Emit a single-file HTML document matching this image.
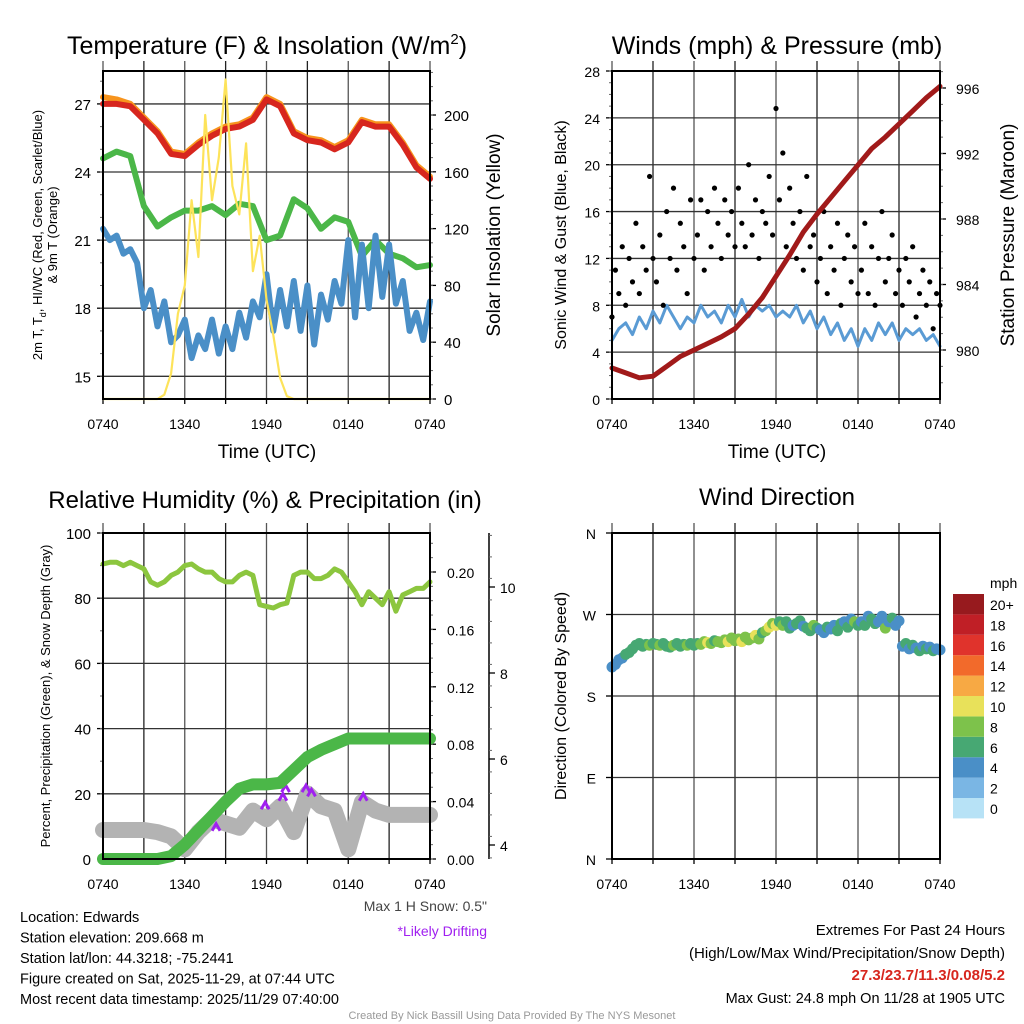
<!DOCTYPE html>
<html><head><meta charset="utf-8"><style>
body{margin:0;background:#fff;}
svg{display:block;font-family:"Liberation Sans",sans-serif;}
</style></head><body>
<svg id="s" width="1024" height="1024" viewBox="0 0 1024 1024">
<rect width="1024" height="1024" fill="#fff"/>
<g id="g"></g>
</svg>
<script>
// ---------- DATA ----------
const timeLabels = ["0740","1340","1940","0140","0740"];
// hourly (25 values, t=0..24h)
const tempRed = [27.0,27.0,26.9,26.3,25.7,24.8,24.7,25.2,25.6,25.9,26.0,26.3,27.2,26.9,25.7,25.4,25.3,25.0,25.3,26.2,26.0,26.0,25.2,24.2,23.7];
const temp9mOrange = [27.3,27.2,27.0,26.4,25.8,24.9,24.8,25.3,25.7,26.0,26.1,26.4,27.3,27.0,25.8,25.5,25.4,25.1,25.4,26.3,26.1,26.1,25.3,24.3,23.8];
const dewGreen = [24.6,24.9,24.7,22.5,21.6,22.0,22.3,22.3,22.5,22.1,22.6,22.5,21.0,21.2,22.8,22.4,21.5,22.0,21.8,20.3,21.0,20.4,20.2,19.8,19.9];
// half-hourly (49 values)
const windChillBlue = [21.5,21.0,21.2,20.4,20.6,20.0,18.0,18.8,17.2,18.3,16.5,16.8,17.5,15.8,16.8,16.2,17.5,16.0,17.2,16.2,17.8,16.7,18.3,17.6,19.5,17.0,18.8,17.2,19.2,17.0,19.0,16.4,18.6,17.5,19.2,18.2,21.0,17.6,20.8,18.0,21.2,18.5,20.8,18.2,19.2,17.0,17.8,16.6,18.3];
const solarYellow = [0,0,0,0,0,0,0,0,0,3,18,60,80,140,100,200,140,170,225,150,130,180,90,115,70,45,15,2,0,0,0,0,0,0,0,0,0,0,0,0,0,0,0,0,0,0,0,0,0];
const sonicWind = [5,6,6.5,5.5,7,6,7.5,6.5,8,7,6,7,6.5,8,7,7.5,6.5,8,7,8.5,7,8,7.5,8,7,7.5,7,8,6.5,7.5,6,7,5.5,6.5,5,6,4.5,6,5,6.5,5.5,6.5,5,6,5.5,6,5,5.5,4.5];
const pressure = [978.9,978.6,978.3,978.4,979.0,979.6,980.0,980.4,980.8,981.3,982.2,983.2,984.5,985.8,987.2,988.3,989.3,990.3,991.3,992.3,993.0,993.8,994.6,995.4,996.1];
// 15-min (97 values)
const gusts = [7,11,9,13,8,12,10,15,9,13,11,19,12, 10,14,8,16,12,18,11,15,13,9,17,12, 14,17,11,16,13,18,15,12,17,14,16,13, 18,15,13,20,14,17,12,16,15,19,14,24.8, 17,21,13,18,15,12,16,11,19,13,14,10, 12,16,9,13,11,15,8,12,14,10,13,9, 11,15,9,13,8,12,16,10,12,14,9,11, 8,12,10,13,7,9,11,8,10,6,9,8];
const rhPct = [90.5,91,91,90,91,90,89,85,84,85,87,88,90,90.5,89,88,88,86,85,85,87,88,87,78,77.5,77,78,78.5,87,88,88,86,86,87,89,88,85,82,78,82,80,78,82,76,81,82,83,83,85];
const precipIn = [0,0,0,0,0,0.002,0.010,0.020,0.030,0.040,0.049,0.052,0.052,0.053,0.062,0.071,0.076,0.080,0.084,0.084,0.084,0.084,0.084,0.084,0.084];
const snowDepth = [4.35,4.35,4.35,4.35,4.3,4.2,3.9,4.3,4.6,4.5,4.4,4.8,4.6,4.9,4.3,5.2,4.9,4.8,3.9,5.0,4.8,4.7,4.7,4.7,4.7];
const driftTimes = [8.3,11.9,13.2,13.4,14.9,15.3,19.1];
const driftDepth = [4.4,4.9,5.1,5.3,5.3,5.2,5.1];
const windDir = [212,215,220,222,226,228,232,236,238,235,237,236,238, 237,236,238,235,234,236,238,235,237,236,238,236, 238,237,240,239,238,241,240,239,242,240,244,241, 243,240,245,242,244,247,243,250,252,256,260,258, 262,258,262,255,258,260,263,257,255,252,258,255, 253,250,256,254,258,252,260,262,256,265,262,258, 262,258,268,265,260,262,268,255,262,266,258,263, 235,238,232,236,233,230,235,232,234,230,232,231];
const windSpd = [4,4,5,5,6,6,7,6,7,6,7,8,6, 7,8,7,6,7,8,6,7,7,8,6,7, 7,8,9,10,8,7,8,9,8,10,8,9, 8,10,9,8,9,10,8,7,9,10,8,10, 7,8,6,7,5,6,7,5,6,7,8,6, 5,4,6,5,4,6,7,5,6,4,8,6, 5,6,4,7,6,5,4,8,5,6,4,5, 4,6,5,7,4,6,5,6,4,6,5,4];
const legendLabels = ["0","2","4","6","8","10","12","14","16","18","20+"];
const legendColors = ["#b7e2f6","#7ab6e4","#4a8fc7","#47a873","#7dc24b","#e8e15a","#f7a944","#f26a2b","#e0332c","#c01f26","#971a1e"];

// ---------- HELPERS ----------
const NS="http://www.w3.org/2000/svg";
const G=document.getElementById('g');
function mk(tag,attrs,parent){const e=document.createElementNS(NS,tag);for(const k in attrs)e.setAttribute(k,attrs[k]);(parent||G).appendChild(e);return e;}
function txt(x,y,s,size,anchor,fill,extra){const e=mk('text',Object.assign({x:x,y:y,'font-size':size,'text-anchor':anchor||'start',fill:fill||'#000'},extra||{}));e.textContent=s;return e;}
function lin(a,b,c,d,w,col){return mk('line',{x1:a,y1:b,x2:c,y2:d,stroke:col||'#000','stroke-width':w||1});}
function scale(d0,d1,r0,r1){return v=>r0+(v-d0)/(d1-d0)*(r1-r0);}

function panelFrame(L,T,R,B,name){
  const g=mk('g',{});
  
  
  for(let i=0;i<=8;i++){const x=L+(R-L)*i/8;lin(x,T-10,x,B,1.3,i%2?'#222':'#555');lin(x,B,x,B+5,1.3,'#000');}
  timeLabels.forEach((s,i)=>{const t=txt(L+(R-L)*i/4,B+30,s,14,'middle');});
  return g;
}
function border(L,T,R,B){mk('rect',{x:L,y:T,width:R-L,height:B-T,fill:'none',stroke:'#000','stroke-width':2});}
function poly(pts,col,w,name,op){const p=mk('polyline',{points:pts.map(p=>p[0].toFixed(1)+','+p[1].toFixed(1)).join(' '),fill:'none',stroke:col,'stroke-width':w,'stroke-linejoin':'round','stroke-linecap':'round',opacity:op||1});return p;}

// ---------- PANEL 1: temperature ----------
{
const L=103,T=71,R=430,B=399;
const x=scale(0,24,L,R), y=scale(14,28.45,B,T), yS=scale(0,231,B,T);
panelFrame(L,T,R,B,'temperature-panel');
[15,18,21,24,27].forEach(v=>{lin(L,y(v),R,y(v),1.3,'#333');lin(L-6,y(v),L,y(v),1.3);txt(L-12,y(v)+6,String(v),15,'end');});
for(let v=15;v<=28;v++){lin(L-3,y(v),L,y(v),1,'#666');}
[0,40,80,120,160,200].forEach(v=>{lin(R,yS(v),R+6,yS(v),1.3);txt(R+14,yS(v)+6,String(v),15,'start');});
for(let v=0;v<=230;v+=10){lin(R,yS(v),R+3,yS(v),1,'#666');}
poly(temp9mOrange.map((v,i)=>[x(i),y(v)]),'#f7941d',6,'temp-9m-line');
poly(tempRed.map((v,i)=>[x(i),y(v)]),'#d7261e',6,'temp-2m-line');
poly(dewGreen.map((v,i)=>[x(i),y(v)]),'#4bb748',6,'dewpoint-line');
poly(windChillBlue.map((v,i)=>[x(i/2),y(v)]),'#4a8fc7',6,'windchill-line');
poly(solarYellow.map((v,i)=>[x(i/2),yS(v)]),'#fde35a',2.2,'solar-line');
border(L,T,R,B);
const t1=txt(267,54,'Temperature (F) & Insolation (W/m',25,'middle');
const sup=mk('tspan',{dy:-10,'font-size':15},t1);sup.textContent='2';const cl=mk('tspan',{dy:10},t1);cl.textContent=')';

txt(267,458,'Time (UTC)',19,'middle');
const yt=mk('text',{transform:'translate(42,235) rotate(-90)','font-size':13,'text-anchor':'middle'});
const a=mk('tspan',{x:0,dy:0},yt);a.textContent='2m T, T';const sb=mk('tspan',{dy:4,'font-size':9},yt);sb.textContent='d';const c=mk('tspan',{dy:-4},yt);c.textContent=', HI/WC (Red, Green, Scarlet/Blue)';
const d=mk('tspan',{x:0,dy:15},yt);d.textContent='& 9m T (Orange)';
txt(0,0,'Solar Insolation (Yellow)',19,'middle',null,{transform:'translate(500,235) rotate(-90)'});
}

// ---------- PANEL 2: winds ----------
{
const L=612,T=71,R=940,B=399;
const x=scale(0,24,L,R), y=scale(0,28,B,T), yP=scale(980,996,350,88);
panelFrame(L,T,R,B,'winds-panel');
[0,4,8,12,16,20,24,28].forEach(v=>{lin(L,y(v),R,y(v),1.3,'#333');lin(L-6,y(v),L,y(v),1.3);txt(L-12,y(v)+6,String(v),14,'end');});
for(let v=0;v<=28;v++){lin(L-3,y(v),L,y(v),1,'#666');}
[980,984,988,992,996].forEach(v=>{lin(R,yP(v),R+6,yP(v),1.3);txt(R+16,yP(v)+6,String(v),14,'start');});
for(let v=978;v<=997;v++){lin(R,yP(v),R+3,yP(v),1,'#666');}
poly(sonicWind.map((v,i)=>[x(i/2),y(v)]),'#5a9bd4',3,'sonic-wind-line');
gusts.forEach((v,i)=>{const c=mk('circle',{cx:x(i/4),cy:y(v),r:2.6,fill:'#000'});});
poly(pressure.map((v,i)=>[x(i),yP(v)]),'#a11a1a',5,'pressure-line');
border(L,T,R,B);
txt(777,54,'Winds (mph) & Pressure (mb)',25,'middle');
txt(777,458,'Time (UTC)',19,'middle');
txt(0,0,'Sonic Wind & Gust (Blue, Black)',16,'middle',null,{transform:'translate(566,235) rotate(-90)'});
txt(0,0,'Station Pressure (Maroon)',19,'middle',null,{transform:'translate(1014,235) rotate(-90)'});
}

// ---------- PANEL 3: RH & precip ----------
{
const L=103,T=533,R=430,B=859;
const x=scale(0,24,L,R), y=scale(0,100,B,T), yPr=scale(0,0.2,B,572), ySn=scale(4,10,845,587);
panelFrame(L,T,R,B,'humidity-panel');
[0,20,40,60,80,100].forEach(v=>{lin(L,y(v),R,y(v),1.3,'#333');lin(L-6,y(v),L,y(v),1.3);txt(L-12,y(v)+6,String(v),15,'end');});
for(let v=0;v<=100;v+=10){lin(L-3,y(v),L,y(v),1,'#666');}
[0,0.04,0.08,0.12,0.16,0.20].forEach(v=>{lin(R,yPr(v),R+6,yPr(v),1.3);txt(R+17,yPr(v)+6,v.toFixed(2),14,'start');});
for(let v=0;v<=0.225;v+=0.01){lin(R,yPr(v),R+3,yPr(v),1,'#666');}
lin(489,533,489,859,1.5);
[4,6,8,10].forEach(v=>{lin(489,ySn(v),495,ySn(v),1.3);txt(500,ySn(v)+6,String(v),14,'start');});
for(let v=3.7;v<=11.5;v+=0.5){lin(489,ySn(v),492,ySn(v),1,'#666');}
poly(snowDepth.map((v,i)=>[x(i),ySn(v)]),'#b3b3b3',16,'snow-depth-line');
driftTimes.forEach((t,i)=>{const p=mk('path',{d:`M${x(t)-4},${ySn(driftDepth[i])+3} L${x(t)},${ySn(driftDepth[i])-4} L${x(t)+4},${ySn(driftDepth[i])+3}`,fill:'none',stroke:'#a020f0','stroke-width':3});});
poly(precipIn.map((v,i)=>[x(i),yPr(v)]),'#4bb748',12,'precip-line');
poly(rhPct.map((v,i)=>[x(i/2),y(v)]),'#8cc63f',5,'rh-line');
border(L,T,R,B);
txt(265,508,'Relative Humidity (%) & Precipitation (in)',24,'middle');
txt(0,0,'Percent, Precipitation (Green), & Snow Depth (Gray)',13,'middle',null,{transform:'translate(50,696) rotate(-90)'});
txt(487,911,'Max 1 H Snow: 0.5"',14,'end','#444');
txt(487,936,'*Likely Drifting',14,'end','#a020f0');
}

// ---------- PANEL 4: wind direction ----------
{
const L=612,T=533,R=940,B=859;
const x=scale(0,24,L,R), y=scale(0,360,B,T);
panelFrame(L,T,R,B,'wind-direction-panel');
[['N',0],['E',90],['S',180],['W',270],['N',360]].forEach(([s,v])=>{lin(L,y(v),R,y(v),1.3,'#333');lin(L-6,y(v),L,y(v),1.3);txt(L-16,y(v)+6,s,14,'end');});
windDir.forEach((v,i)=>{const c=mk('circle',{cx:x(i/4),cy:y(v),r:5.5,fill:legendColors[Math.min(10,Math.floor(windSpd[i]/2))]});});
border(L,T,R,B);
txt(777,505,'Wind Direction',24,'middle');
txt(0,0,'Direction (Colored By Speed)',16,'middle',null,{transform:'translate(566,696) rotate(-90)'});
txt(990,588,'mph',14,'start');
legendColors.forEach((c,i)=>{const r=mk('rect',{x:953,y:798-i*20.4,width:31,height:20.4,fill:c});txt(990,814-i*20.4,legendLabels[i],14,'start');});
}

// ---------- footer ----------
["Location: Edwards","Station elevation: 209.668 m","Station lat/lon: 44.3218; -75.2441","Figure created on Sat, 2025-11-29, at 07:44 UTC","Most recent data timestamp: 2025/11/29 07:40:00"].forEach((s,i)=>txt(20,922+i*20.5,s,14.5,'start'));
txt(1005,935,'Extremes For Past 24 Hours',15,'end');
txt(1005,958,'(High/Low/Max Wind/Precipitation/Snow Depth)',15,'end');
txt(1005,980,'27.3/23.7/11.3/0.08/5.2',15,'end','#d7261e',{'font-weight':'bold'});
txt(1005,1003,'Max Gust: 24.8 mph On 11/28 at 1905 UTC',14.5,'end');
txt(512,1019,'Created By Nick Bassill Using Data Provided By The NYS Mesonet',11,'middle','#999');
</script>
</body></html>
